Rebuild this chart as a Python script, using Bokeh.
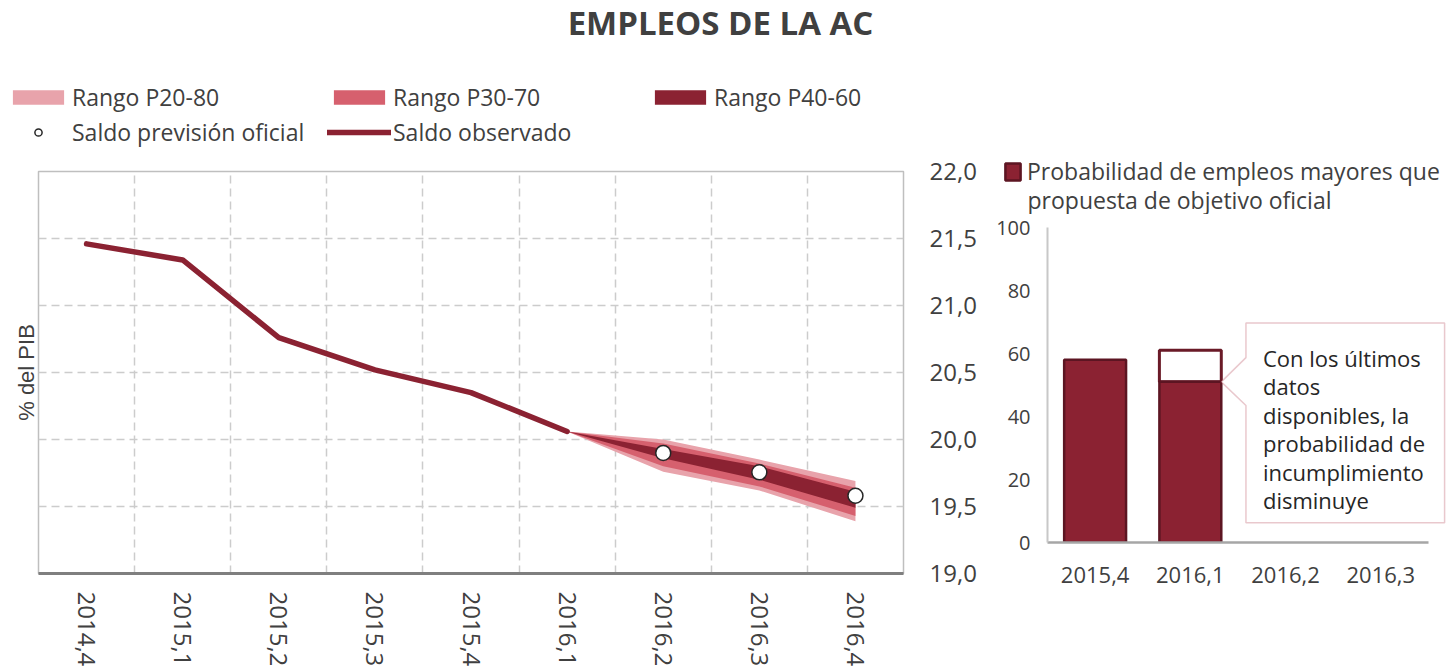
from bokeh.plotting import figure
from bokeh.models import (FactorRange, Range1d, LinearAxis, FixedTicker, CustomJSTickFormatter,
                          Legend, LegendItem, Label, PolyAnnotation)
from bokeh.layouts import row, column
from bokeh.embed import file_html
from bokeh.resources import INLINE

# ---------------- data ----------------
title_text = "EMPLEOS DE LA AC"
quarters = ["2014,4", "2015,1", "2015,2", "2015,3", "2015,4", "2016,1", "2016,2", "2016,3", "2016,4"]
observed_quarters = ["2014,4", "2015,1", "2015,2", "2015,3", "2015,4", "2016,1"]
observed = [21.46, 21.34, 20.76, 20.52, 20.35, 20.06]
fan_quarters = ["2016,1", "2016,2", "2016,3", "2016,4"]
p20 = [20.06, 19.76, 19.62, 19.39]
p80 = [20.06, 20.00, 19.85, 19.69]
p30 = [20.06, 19.80, 19.65, 19.43]
p70 = [20.06, 19.97, 19.82, 19.64]
p40 = [20.06, 19.86, 19.70, 19.49]
p60 = [20.06, 19.93, 19.80, 19.61]
official_quarters = ["2016,2", "2016,3", "2016,4"]
official = [19.90, 19.755, 19.58]
y_ticks = [19.0, 19.5, 20.0, 20.5, 21.0, 21.5, 22.0]
y_label = "% del PIB"
legend_labels = ["Rango P20-80", "Rango P30-70", "Rango P40-60", "Saldo previsión oficial", "Saldo observado"]

prob_quarters = ["2015,4", "2016,1", "2016,2", "2016,3"]
prob_current_quarters = ["2015,4", "2016,1"]
prob_current = [58, 51]
prob_previous_quarters = ["2016,1"]
prob_previous = [61]
prob_ticks = [0, 20, 40, 60, 80, 100]
prob_legend_lines = ["Probabilidad de empleos mayores que", "propuesta de objetivo oficial"]
callout_text = "Con los últimos\ndatos\ndisponibles, la\nprobabilidad de\nincumplimiento\ndisminuye"

# ---------------- styles ----------------
FONT = "Open Sans"
TXT = "#404040"
LIGHT = "#E8A3AB"
MED = "#D6606E"
DARK = "#8B2232"
GRID = "#cccccc"
NAN = float("nan")
comma_fmt = CustomJSTickFormatter(code="return tick.toFixed(1).replace('.', ',');")

STYLE_LIGHT = dict(fill_color=LIGHT)
STYLE_MED = dict(fill_color=MED)
STYLE_DARK = dict(fill_color=DARK)
STYLE_OBS = dict(line_width=5.5, line_color=DARK, line_join="round", line_cap="round")
STYLE_OFF = dict(size=15, fill_color="white", line_color="#262626", line_width=1.5)
STYLE_BAR = dict(fill_color=DARK, line_color="#5c1522", line_width=2.5)


def no_align(fig):
    if "frame_align" in fig.properties():
        fig.frame_align = False


def header_fig(width, height):
    f = figure(width=width, height=height, x_range=Range1d(0, 1), y_range=Range1d(0, 1),
               x_axis_location=None, y_axis_location=None, output_backend="svg",
               toolbar_location=None, min_border=0)
    no_align(f)
    f.outline_line_color = None
    f.grid.visible = False
    return f


# ---------------- header of left chart (title + legend) ----------------
h1 = header_fig(993, 154)
h1.add_layout(Label(x=720, y=132, x_units="screen", y_units="screen", text=title_text,
                    text_align="center", text_baseline="middle", text_font=FONT,
                    text_font_size="33px", text_font_style="bold", text_color=TXT))
# legend keys (no visible data in this header)
k20 = h1.varea(x=[NAN], y1=[NAN], y2=[NAN], **STYLE_LIGHT)
k30 = h1.varea(x=[NAN], y1=[NAN], y2=[NAN], **STYLE_MED)
k40 = h1.varea(x=[NAN], y1=[NAN], y2=[NAN], **STYLE_DARK)
koff = h1.scatter(x=[NAN], y=[NAN], **STYLE_OFF)
kobs = h1.line(x=[NAN], y=[NAN], **STYLE_OBS)
leg = Legend(items=[LegendItem(label=legend_labels[0], renderers=[k20]),
                    LegendItem(label=legend_labels[1], renderers=[k30]),
                    LegendItem(label=legend_labels[2], renderers=[k40]),
                    LegendItem(label=legend_labels[3], renderers=[koff]),
                    LegendItem(label=legend_labels[4], renderers=[kobs])],
             location=(6, 6), orientation="horizontal", ncols=3,
             glyph_width=64, glyph_height=18, label_standoff=2, label_width=252, spacing=3,
             padding=0, margin=0, border_line_color=None, background_fill_alpha=0,
             label_text_font=FONT, label_text_font_size="23px", label_text_color=TXT)
h1.add_layout(leg)

# ---------------- left chart ----------------
p = figure(width=993, height=515, x_range=FactorRange(factors=quarters), y_range=Range1d(19, 22),
           y_axis_location="right", output_backend="svg", toolbar_location=None,
           min_border_left=38, min_border_right=90, min_border_top=17, min_border_bottom=91)
no_align(p)
p.outline_line_color = "#bfbfbf"
p.outline_line_width = 1.5
p.xgrid.ticker = FixedTicker(ticks=list(range(1, len(quarters))))
p.ygrid.ticker = FixedTicker(ticks=y_ticks)
for g in (p.xgrid[0], p.ygrid[0]):
    g.grid_line_color = GRID
    g.grid_line_dash = "8 5"
    g.grid_line_width = 1.5

ya = p.yaxis[0]
ya.ticker = FixedTicker(ticks=y_ticks)
ya.formatter = comma_fmt
ya.major_tick_line_color = None
ya.minor_tick_line_color = None
ya.axis_line_color = None
ya.major_label_standoff = 20
ya.major_label_text_font = FONT
ya.major_label_text_font_size = "24px"
ya.major_label_text_color = TXT

xa = p.xaxis[0]
xa.major_label_orientation = "vertical"
xa.major_tick_line_color = None
xa.minor_tick_line_color = None
xa.axis_line_color = "#7f7f7f"
xa.axis_line_width = 3
xa.major_label_standoff = 12
xa.major_label_text_font = FONT
xa.major_label_text_font_size = "24px"
xa.major_label_text_color = TXT

la = LinearAxis(axis_label=y_label, ticker=FixedTicker(ticks=[]),
                major_tick_line_color=None, minor_tick_line_color=None, axis_line_color=None,
                major_label_standoff=8, axis_label_standoff=0,
                axis_label_text_font="Liberation Sans", axis_label_text_font_size="22px",
                axis_label_text_font_style="normal", axis_label_text_color=TXT)
p.add_layout(la, "left")

p.varea(x=fan_quarters, y1=p20, y2=p80, **STYLE_LIGHT)
p.varea(x=fan_quarters, y1=p30, y2=p70, **STYLE_MED)
p.varea(x=fan_quarters, y1=p40, y2=p60, **STYLE_DARK)
p.line(x=observed_quarters, y=observed, **STYLE_OBS)
p.scatter(x=official_quarters, y=official, **STYLE_OFF)

# ---------------- header of right chart (legend) ----------------
h2 = header_fig(454, 214)
kbar = h2.vbar(x=[NAN], top=[NAN], width=0.5, **STYLE_BAR)
leg2 = Legend(items=[LegendItem(label=prob_legend_lines[0], renderers=[kbar])],
              location=(10, 27), glyph_width=19, glyph_height=21, label_standoff=5,
              padding=0, margin=0, border_line_color=None, background_fill_alpha=0,
              label_text_font=FONT, label_text_font_size="23px", label_text_color=TXT)
h2.add_layout(leg2)
h2.add_layout(Label(x=34, y=15, x_units="screen", y_units="screen", text=prob_legend_lines[1],
                    text_align="left", text_baseline="middle", text_font=FONT,
                    text_font_size="23px", text_color=TXT))

# ---------------- right chart ----------------
n_q = len(prob_quarters)
q = figure(width=454, height=455, x_range=Range1d(0, 4.19), y_range=Range1d(0, 100),
           output_backend="svg", toolbar_location=None,
           min_border_left=53, min_border_right=1, min_border_top=13, min_border_bottom=127)
no_align(q)
q.outline_line_color = None
q.xgrid.visible = False
q.ygrid.visible = False

qy = q.yaxis[0]
qy.ticker = FixedTicker(ticks=prob_ticks)
qy.axis_line_color = "#c8c8c8"
qy.axis_line_width = 2
qy.major_tick_line_color = None
qy.minor_tick_line_color = None
qy.major_tick_out = 0
qy.major_tick_in = 0
qy.minor_tick_out = 0
qy.major_label_standoff = 17
qy.major_label_text_font = FONT
qy.major_label_text_font_size = "20px"
qy.major_label_text_color = TXT

qx = q.xaxis[0]
qx.ticker = FixedTicker(ticks=[i + 0.5 for i in range(n_q)])
qx.formatter = CustomJSTickFormatter(args=dict(labels=prob_quarters),
                                     code="return labels[Math.floor(tick)];")
qx.bounds = (0, n_q)
qx.axis_line_color = "#a6a6a6"
qx.axis_line_width = 2.5
qx.major_tick_line_color = None
qx.minor_tick_line_color = None
qx.major_label_standoff = 18
qx.major_label_text_font = FONT
qx.major_label_text_font_size = "22px"
qx.major_label_text_color = TXT


def qpos(cats):
    return [prob_quarters.index(c) + 0.5 for c in cats]


bar_w = 0.65
base_2016_1 = prob_current[prob_current_quarters.index("2016,1")]
q.vbar(x=qpos(prob_previous_quarters), bottom=base_2016_1, top=prob_previous, width=bar_w,
       fill_color="white", line_color="#6a1a27", line_width=3)
q.vbar(x=qpos(prob_current_quarters), top=prob_current, width=bar_w, **STYLE_BAR)

# callout
bx0, bx1, by0, by1 = 2.084, 4.17, 6.3, 69.7
ax = qpos(["2016,1"])[0] + bar_w / 2
ay = base_2016_1
q.add_layout(PolyAnnotation(xs=[bx0, bx1, bx1, bx0, bx0, ax, bx0],
                            ys=[by1, by1, by0, by0, 43.5, ay, 58.7],
                            fill_color="white", fill_alpha=1.0,
                            line_color="#b5485a", line_width=1.5))
q.add_layout(Label(x=bx0, y=by1, x_offset=17, y_offset=-20, text=callout_text,
                   text_align="left", text_baseline="top", text_font=FONT,
                   text_font_size="22px", text_line_height=0.95, text_color="#262626"))

layout = row(column(h1, p), column(h2, q))
open("out.html", "w").write(file_html(layout, INLINE))
